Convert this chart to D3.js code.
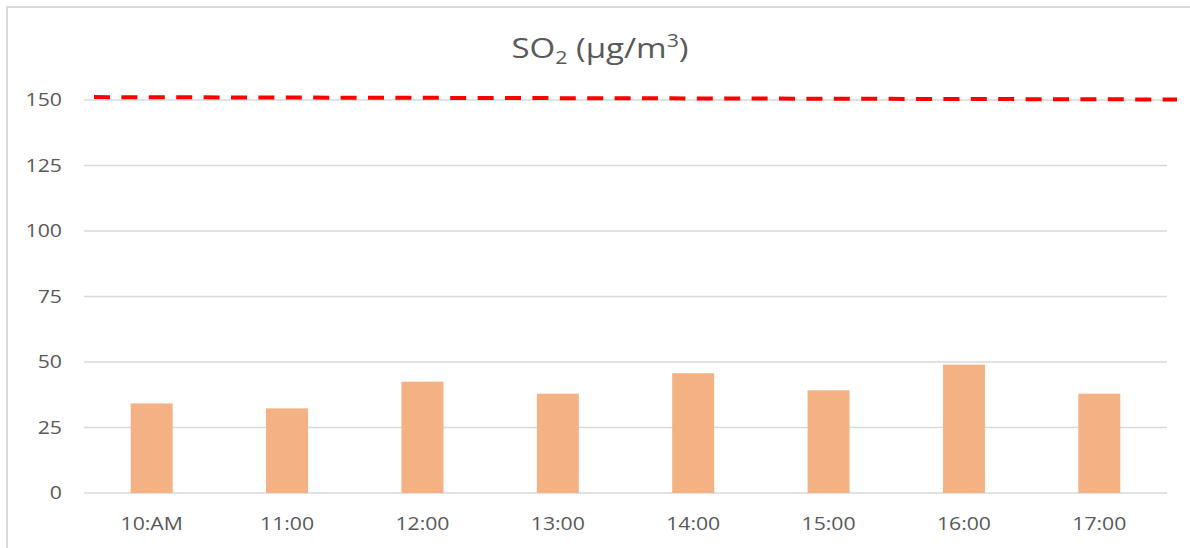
<!DOCTYPE html>
<html>
<head>
<meta charset="utf-8">
<script src="https://cdn.jsdelivr.net/npm/d3@7"></script>
<style>
  html, body { margin: 0; padding: 0; background: #fff; }
  svg { display: block; }
  text { font-family: "Open Sans", sans-serif; fill: #595959; }
</style>
</head>
<body>
<svg id="chart" width="1190" height="548"></svg>
<script>
const categories = ["10:AM", "11:00", "12:00", "13:00", "14:00", "15:00", "16:00", "17:00"];
const so2Values = [34.2, 32.3, 42.5, 37.9, 45.7, 39.2, 49.0, 37.9];
const limitValues = [151.1, 150.2];
const yTicks = [0, 25, 50, 75, 100, 125, 150];

const W = 1190, H = 548;
const plot = { left: 84, right: 1167, top: 100, bottom: 493 };
const sx = 1.18; // horizontal text stretch seen in reference

const svg = d3.select("#chart");

// frame
svg.append("rect")
  .attr("x", 7).attr("y", 7)
  .attr("width", W + 20).attr("height", H + 20)
  .attr("fill", "none").attr("stroke", "#d9d9d9").attr("stroke-width", 2);

const x = d3.scaleBand()
  .domain(categories)
  .range([plot.left, plot.right])
  .paddingInner(0.69)
  .paddingOuter(0.345);

const y = d3.scaleLinear()
  .domain([0, 150])
  .range([plot.bottom, plot.top]);

// gridlines
svg.append("g").selectAll("line")
  .data(yTicks)
  .join("line")
  .attr("x1", plot.left).attr("x2", plot.right)
  .attr("y1", d => y(d)).attr("y2", d => y(d))
  .attr("stroke", "#d9d9d9").attr("stroke-width", 1.5);

// y tick labels
svg.append("g").selectAll("text")
  .data(yTicks)
  .join("text")
  .attr("transform", d => `translate(${plot.left - 22},${y(d)}) scale(${sx},1)`)
  .attr("text-anchor", "end")
  .attr("dy", "0.36em")
  .attr("font-size", 18)
  .text(d => d);

// x tick labels
svg.append("g").selectAll("text")
  .data(categories)
  .join("text")
  .attr("transform", d => `translate(${x(d) + x.bandwidth() / 2},${plot.bottom + 37}) scale(${sx},1)`)
  .attr("text-anchor", "middle")
  .attr("font-size", 18)
  .text(d => d);

// bars
svg.append("g").selectAll("rect")
  .data(categories.map((c, i) => ({ c, v: so2Values[i] })))
  .join("rect")
  .attr("x", d => x(d.c))
  .attr("width", x.bandwidth())
  .attr("y", d => y(d.v))
  .attr("height", d => y(0) - y(d.v))
  .attr("fill", "#f4b183");

// limit dashed line
const lx = d3.scalePoint()
  .domain(d3.range(limitValues.length))
  .range([plot.left + 10, plot.right + 10]);
svg.append("path")
  .datum(limitValues)
  .attr("d", d3.line().x((d, i) => lx(i)).y(d => y(d)))
  .attr("fill", "none")
  .attr("stroke", "#ff0000")
  .attr("stroke-width", 4)
  .attr("stroke-dasharray", "16,11.4");

// title
const title = svg.append("text")
  .attr("transform", `translate(600,58) scale(${sx},1)`)
  .attr("text-anchor", "middle")
  .attr("font-size", 28);
title.append("tspan").text("SO");
title.append("tspan").attr("font-size", 18).attr("dy", 6).text("2");
title.append("tspan").attr("dy", -6).text(" (µg/m");
title.append("tspan").attr("font-size", 18).attr("dy", -11).text("3");
title.append("tspan").attr("dy", 11).text(")");
</script>
</body>
</html>
